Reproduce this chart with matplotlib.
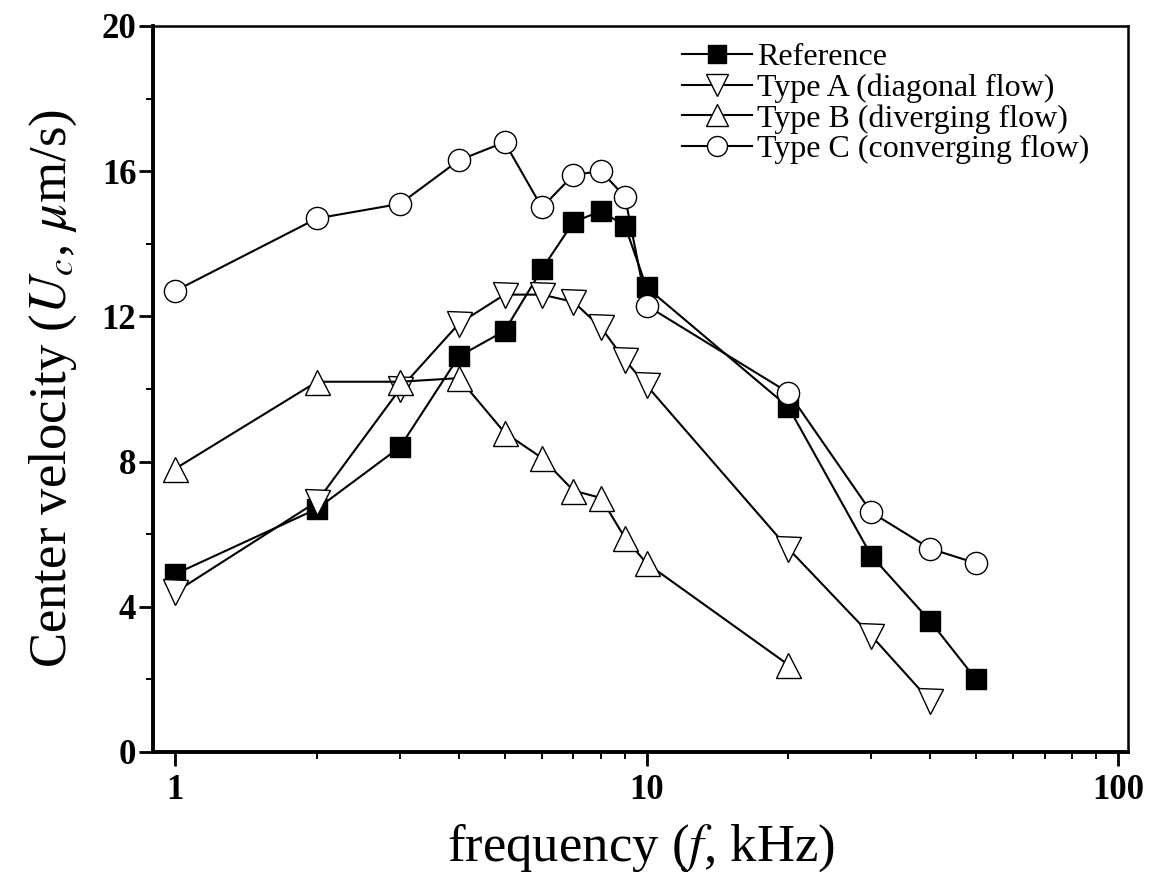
import numpy as np
import matplotlib
matplotlib.use('Agg')
import matplotlib.pyplot as plt
from matplotlib.ticker import MultipleLocator, FixedLocator, NullFormatter

plt.rcParams['font.family'] = ['Liberation Serif', 'DejaVu Serif']
plt.rcParams['mathtext.fontset'] = 'stix'

# frequency (kHz) and center velocity (um/s)
freq_ref = [1, 2, 3, 4, 5, 6, 7, 8, 9, 10, 20, 30, 40, 50]
vel_ref = [4.9, 6.7, 8.4, 10.9, 11.6, 13.3, 14.6, 14.9, 14.5, 12.8, 9.5, 5.4, 3.6, 2.0]

freq_a = [1, 2, 3, 4, 5, 6, 7, 8, 9, 10, 20, 30, 40]
vel_a = [4.4, 6.9, 10.0, 11.8, 12.6, 12.6, 12.4, 11.7, 10.8, 10.1, 5.6, 3.2, 1.4]

freq_b = [1, 2, 3, 4, 5, 6, 7, 8, 9, 10, 20]
vel_b = [7.8, 10.2, 10.2, 10.3, 8.8, 8.1, 7.2, 7.0, 5.9, 5.2, 2.4]

freq_c = [1, 2, 3, 4, 5, 6, 7, 8, 9, 10, 20, 30, 40, 50]
vel_c = [12.7, 14.7, 15.1, 16.3, 16.8, 15.0, 15.9, 16.0, 15.3, 12.3, 9.9, 6.6, 5.6, 5.2]

labels = ['Reference', 'Type A (diagonal flow)', 'Type B (diverging flow)',
          'Type C (converging flow)']

fig = plt.figure(figsize=(11.7, 8.89), dpi=100)
ax = fig.add_axes([153 / 1170, 1 - 752 / 889, (1128 - 153) / 1170, (752 - 26) / 889])

common = dict(color='black', linewidth=1.5, markeredgewidth=1.0)
ax.plot(freq_ref, vel_ref, marker='s', markerfacecolor='black', markersize=15,
        label=labels[0], **common)
ax.plot(freq_a, vel_a, marker='v', markerfacecolor='white', markersize=18,
        label=labels[1], **common)
ax.plot(freq_b, vel_b, marker='^', markerfacecolor='white', markersize=18,
        label=labels[2], **common)
ax.plot(freq_c, vel_c, marker='o', markerfacecolor='white', markersize=16,
        label=labels[3], **common)

ax.set_xscale('log')
ax.set_xlim(0.898, 105)
ax.set_ylim(0, 20)

ax.xaxis.set_major_locator(FixedLocator([1, 10, 100]))
ax.set_xticklabels(['1', '10', '100'])
ax.xaxis.set_minor_locator(FixedLocator([2, 3, 4, 5, 6, 7, 8, 9, 20, 30, 40, 50, 60, 70, 80, 90]))
ax.xaxis.set_minor_formatter(NullFormatter())
ax.yaxis.set_major_locator(MultipleLocator(4))
ax.yaxis.set_minor_locator(MultipleLocator(2))

for sp in ax.spines.values():
    sp.set_linewidth(1.8)
ax.spines['left'].set_linewidth(2.8)
ax.spines['bottom'].set_linewidth(2.8)

ax.tick_params(which='major', direction='out', length=10, width=2.0, labelsize=25)
ax.tick_params(axis='y', which='major', pad=2)
ax.tick_params(axis='x', which='major', pad=6)
ax.tick_params(which='minor', direction='out', length=5, width=1.4)
ax.tick_params(top=False, right=False, which='both')
for t in ax.get_yticklabels() + ax.get_xticklabels():
    t.set_fontweight('bold')

ax.set_xlabel(r'frequency ($f$, kHz)', fontsize=38, labelpad=10)
ax.set_ylabel(r'Center velocity ($U_c$, $\mu$m/s)', fontsize=38, labelpad=16)

leg = ax.legend(loc='upper left', bbox_to_anchor=(0.5426, 0.977), frameon=False,
                fontsize=23, labelspacing=0.04, handlelength=2.2, handletextpad=0.15,
                borderpad=0, borderaxespad=0, markerscale=0.9)

fig.savefig('out.png', dpi=100)
